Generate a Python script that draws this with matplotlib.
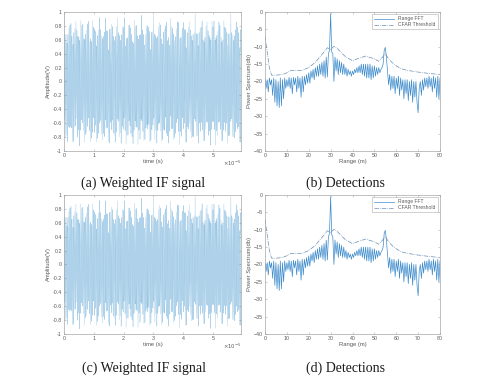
import numpy as np
import matplotlib
matplotlib.use('Agg')
import matplotlib.pyplot as plt

# IF signal: beat tones of the scatterers (range in m, relative amplitude)
target_range_m = [30.0, 55.0, 12.3, 45.7, 68.4]
target_amp = [1.0, 0.2, 0.08, 0.07, 0.06]
hz_per_m = 1.0e5          # beat frequency per metre of range
fs = 24.0e6               # sample rate
t_end = 5.94e-5           # record length (s)

# Range spectrum (0.5 m steps, dB)
range_m = np.arange(0, 80.5, 0.5)
fft_db = [
    -19.5, -22, -19.5, -23, -19, -21, -19.5, -24, -19, -26, -19.5, -27, -20, -27.5,
    -19, -27, -19.5, -25, -19, -22, -19.5, -21.5, -18.8, -22, -19, -23.5, -18.8, -21,
    -19, -23, -18.5, -22, -19, -24.5, -18.5, -23, -18.5, -21, -18, -20.5,
    -17.5, -20.5, -17, -19, -16.5, -19.5, -16, -18.5, -15.5, -18.5, -15, -18,
    -14.5, -18.5, -14, -19, -13, -18.7, -12, -11, -0.5, -11.5, -12, -20, -13,
    -17, -13.5, -18, -14, -17.5, -14.5, -18, -15, -18, -16, -18.5, -16.5, -18,
    -17, -18.5, -17, -18, -16.5, -17.5, -16, -17.5, -15.5, -17.5, -15, -18, -15,
    -18.5, -15, -19, -15, -19, -15, -19.5, -15.5, -19, -15.5, -18.5, -16, -18,
    -16, -17.5, -16.5, -16, -15, -11, -10.2, -13, -17, -21, -18, -22.5, -18.5,
    -22, -18.5, -23.5, -19, -22, -18.5, -24, -19, -22.5, -19.5, -25, -19.5,
    -23.5, -19.5, -25.5, -20, -24, -19.5, -26, -20, -24.5, -20, -26, -29, -22,
    -20, -24, -19.5, -22.5, -19, -21.5, -19, -22, -18.5, -21.5, -19, -23, -18.5,
    -22, -19, -24.5, -18.5, -25, -19,
]

# CFAR threshold
cfar_range = [0, 1, 2, 3, 5, 8, 10, 12, 15, 17, 20, 23, 25, 27, 28.5, 30, 31.5,
              33, 35, 37, 40, 43, 46, 50, 52, 54, 55, 56, 58, 60, 62, 65, 70,
              75, 80]
cfar_db = [-7, -11.5, -16, -18.2, -18.2, -18, -17.5, -16.8, -16.8, -16.8, -16,
           -14.5, -13, -11.5, -10.3, -10.8, -9.9, -10.5, -11.8, -13, -14, -13.3,
           -12.7, -13.5, -14.2, -12.8, -12, -13, -14.5, -15.5, -16.3, -16.8,
           -17.3, -17.7, -18]

blue = '#0072BD'
tick_font = 'Liberation Sans'

t = np.arange(0, t_end, 1 / fs)
sig = np.zeros_like(t)
for r, a in zip(target_range_m, target_amp):
    sig += a * np.cos(2 * np.pi * r * hz_per_m * t)
sig = sig / np.abs(sig).max()


def style(ax):
    for s in ax.spines.values():
        s.set_color('0.65')
        s.set_linewidth(0.5)
    ax.tick_params(direction='in', length=1.5, width=0.4, colors='0.65',
                   labelsize=3.8, labelcolor='0.35', top=True, right=True,
                   pad=1.5)
    for lab in ax.get_xticklabels() + ax.get_yticklabels():
        lab.set_family(tick_font)


def draw_signal(ax):
    ax.plot(t, sig, color=blue, lw=0.25, alpha=0.45)
    ax.set_xlim(0, t_end)
    ax.set_ylim(-1, 1)
    ax.set_yticks(np.arange(-1, 1.01, 0.2))
    ax.set_yticklabels(['-1', '-0.8', '-0.6', '-0.4', '-0.2', '0', '0.2',
                        '0.4', '0.6', '0.8', '1'])
    ax.set_xticks(np.arange(0, 6) * 1e-5)
    ax.set_xticklabels([str(i) for i in range(6)])
    ax.set_xlabel('time (s)', fontsize=4.2, color='0.35', labelpad=1,
                  family=tick_font)
    ax.set_ylabel('Amplitude(V)', fontsize=4.2, color='0.35', labelpad=1,
                  family=tick_font)
    ax.text(1.0, -0.055, r'$\times10^{-5}$', transform=ax.transAxes,
            fontsize=3.8, color='0.35', ha='right', va='top')
    style(ax)


def draw_spectrum(ax):
    ax.plot(range_m, fft_db, color='#3f8ccc', lw=0.5, label='Range FFT')
    ax.plot(cfar_range, cfar_db, color='#6a8cb3', lw=0.5, ls='-.',
            label='CFAR Threshold')
    ax.set_xlim(0, 80)
    ax.set_ylim(-40, 0)
    ax.set_xticks(np.arange(0, 81, 10))
    ax.set_yticks(np.arange(-40, 1, 5))
    ax.set_xlabel('Range (m)', fontsize=4.2, color='0.35', labelpad=1,
                  family=tick_font)
    ax.set_ylabel('Power Spectrum(db)', fontsize=4.2, color='0.35',
                  labelpad=1, family=tick_font)
    leg = ax.legend(loc='upper right', frameon=True, fancybox=False,
                    borderpad=0.4, handlelength=4, labelspacing=0.2,
                    prop={'family': tick_font, 'size': 3.6})
    leg.get_frame().set_linewidth(0.4)
    leg.get_frame().set_edgecolor('0.6')
    for txt in leg.get_texts():
        txt.set_color('0.35')
    style(ax)


fig = plt.figure(figsize=(5.0, 3.81), dpi=100)
ax_a = fig.add_axes([0.128, 0.6037, 0.354, 0.365])
ax_b = fig.add_axes([0.53, 0.6037, 0.35, 0.365])
ax_c = fig.add_axes([0.128, 0.1234, 0.354, 0.365])
ax_d = fig.add_axes([0.53, 0.1234, 0.35, 0.365])

draw_signal(ax_a)
draw_spectrum(ax_b)
draw_signal(ax_c)
draw_spectrum(ax_d)

cap = dict(fontsize=10, family='Liberation Serif', ha='center', va='center',
           color='0.1')
fig.text(0.287, 0.52, '(a) Weighted IF signal', **cap)
fig.text(0.69, 0.52, '(b) Detections', **cap)
fig.text(0.287, 0.034, '(c) Weighted IF signal', **cap)
fig.text(0.69, 0.034, '(d) Detections', **cap)

fig.savefig('out.png', dpi=100)
